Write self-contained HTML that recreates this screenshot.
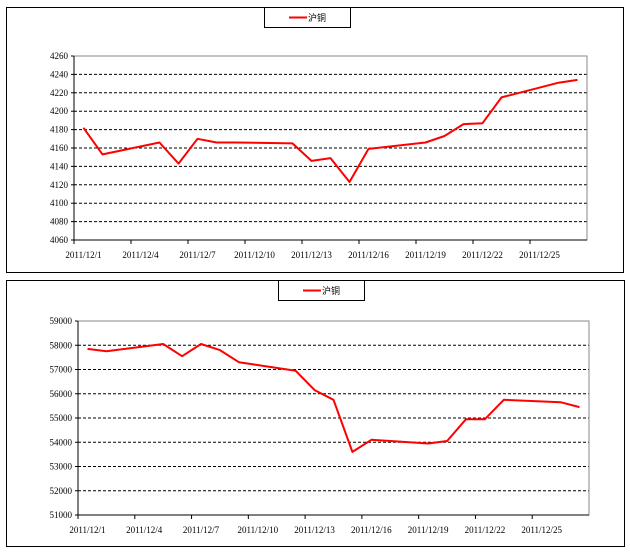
<!DOCTYPE html>
<html><head><meta charset="utf-8"><style>
body{margin:0;background:#fff;width:630px;height:553px;overflow:hidden}
svg{display:block;font-family:"Liberation Serif","Noto Serif CJK SC",serif}
</style></head><body>
<svg id="s" width="630" height="553"></svg>
<script>
const categories=["2011/12/1","12/2","12/3","2011/12/4","12/5","12/6","2011/12/7","12/8","12/9","2011/12/10","12/11","12/12","2011/12/13","12/14","12/15","2011/12/16","12/17","12/18","2011/12/19","12/20","12/21","2011/12/22","12/23","12/24","2011/12/25","12/26","12/27"];
const topValues=[4182,4153,null,null,4166,4143,4170,4166,4166,null,null,4165,4146,4149,4123,4159,null,null,4166,4173,4186,4187,4215,null,null,4231,4234];
const topTicks=[4060,4080,4100,4120,4140,4160,4180,4200,4220,4240,4260];
const botValues=[57850,57750,null,null,58050,57550,58050,57800,57300,null,null,56950,56150,55750,53600,54100,null,null,53950,54050,54950,54950,55750,null,null,55650,55450];
const botTicks=[51000,52000,53000,54000,55000,56000,57000,58000,59000];
const NS="http://www.w3.org/2000/svg";
const svg=document.getElementById('s');
function mk(t,a,p){const e=document.createElementNS(NS,t);for(const k in a)e.setAttribute(k,a[k]);(p||svg).appendChild(e);return e;}
function chart(name,box,plot,leg,values,ticks){
  const g=mk('g',{});
  
  
  mk('rect',{x:box[0]+.5,y:box[1]+.5,width:box[2],height:box[3],fill:'#fff',stroke:'#000','stroke-width':1},g);
  const [L,T,R,B]=plot;
  const mn=ticks[0],mx=ticks[ticks.length-1];
  const y=v=>B-(v-mn)/(mx-mn)*(B-T);
  const bw=(R-L)/categories.length;
  const x=i=>L+bw*(i+0.5);
  ticks.forEach((t,i)=>{
    if(i>0&&i<ticks.length-1){const gl=mk('line',{x1:L,x2:R,y1:y(t),y2:y(t),stroke:'#000','stroke-dasharray':'3,2','stroke-width':1},g);
    
    }
    const tx=mk('text',{x:L-6,y:y(t)+3,'font-size':9,'text-anchor':'end'},g);tx.textContent=t;
    
    
    mk('line',{x1:L-3,x2:L,y1:y(t),y2:y(t),stroke:'#000'},g);
  });
  mk('rect',{x:L,y:T,width:R-L,height:B-T,fill:'none',stroke:'#888'},g);
  mk('line',{x1:L,x2:L,y1:T,y2:B,stroke:'#000'},g);
  mk('line',{x1:L,x2:R,y1:B,y2:B,stroke:'#000'},g);
  for(let i=0;i<categories.length;i+=3){
    mk('line',{x1:L+bw*i,x2:L+bw*i,y1:B,y2:B+4,stroke:'#000'},g);
    const tx=mk('text',{x:x(i),y:B+18,'font-size':9,'text-anchor':'middle'},g);tx.textContent=categories[i];
    
    
  }
  let d='';values.forEach((v,i)=>{if(v!=null)d+=(d?'L':'M')+x(i).toFixed(1)+','+y(v).toFixed(1);});
  const p=mk('path',{d:d,fill:'none',stroke:'#f00','stroke-width':2,'stroke-linejoin':'round'},g);
  
  
  const lg=mk('g',{},g);
  
  
  mk('rect',{x:leg[0]+.5,y:leg[1]+.5,width:86,height:20,fill:'#fff',stroke:'#000'},lg);
  mk('line',{x1:leg[0]+25,x2:leg[0]+43,y1:leg[1]+10.5,y2:leg[1]+10.5,stroke:'#f00','stroke-width':2},lg);
  const lt=mk('text',{x:leg[0]+44,y:leg[1]+14,'font-size':9,'font-family':'"Noto Sans CJK SC",sans-serif'},lg);lt.textContent='沪铜';
}
chart('top-chart',[6,7,617,265],[74,56,587,240],[264,7],topValues,topTicks);
chart('bottom-chart',[6,280,618,266],[78,321,589,515],[278,280],botValues,botTicks);
</script>
</body></html>
